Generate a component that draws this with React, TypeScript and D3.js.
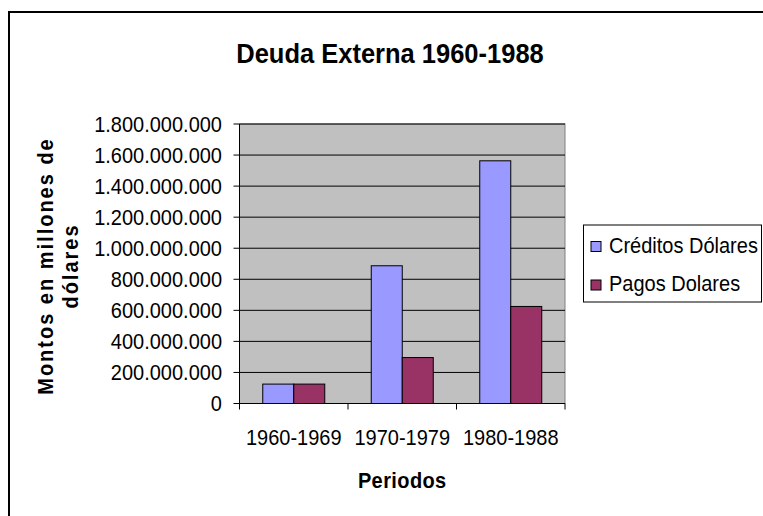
import React from 'react';
import * as d3 from 'd3';

const periods = ['1960-1969', '1970-1979', '1980-1988'];
const seriesNames = ['Créditos Dólares', 'Pagos Dolares'];
const creditos = [125000000, 887000000, 1563000000];
const pagos = [125000000, 296000000, 625000000];
const seriesColors = ['#9999FF', '#993366'];
const yTicks = [0, 200000000, 400000000, 600000000, 800000000, 1000000000, 1200000000, 1400000000, 1600000000, 1800000000];

const W = 763;
const H = 516;
const FONT = '"Liberation Sans", Arial, sans-serif';
const STRETCH = 1.1; // the picture's glyphs are a bit taller than wide

// plot area
const plot = { left: 239.5, right: 565, top: 124, bottom: 403.5 };

// text stretched vertically around its baseline
const T: React.FC<{ x: number; y: number; anchor?: string; size?: number; bold?: boolean; spacing?: number; children: React.ReactNode }> =
  ({ x, y, anchor = 'start', size = 20, bold = false, spacing = 0, children }) => (
    <g transform={`translate(${x},${y}) scale(1,${STRETCH})`}>
      <text x={0} y={0} textAnchor={anchor} fontSize={size} fontWeight={bold ? 'bold' : 'normal'}
        letterSpacing={spacing} fill="#000">{children}</text>
    </g>
  );

const App: React.FC = () => {
  const y = d3.scaleLinear().domain([0, 1800000000]).range([plot.bottom, plot.top]);
  const x0 = d3.scaleBand<string>().domain(periods).range([plot.left, plot.right]).padding(0);
  // Excel gap width 150% -> outer padding 0.75 of a bar on each side
  const x1 = d3.scaleBand<string>().domain(seriesNames).range([0, x0.bandwidth()]).paddingInner(0).paddingOuter(0.75);

  const fmt = (v: number) => d3.format(',')(v).replace(/,/g, '.');
  const values = [creditos, pagos];

  const boundaries = [...periods.map(p => x0(p) as number), plot.right];

  return (
    <svg width={W} height={H} style={{ position: 'absolute', left: 0, top: 0, background: '#fff' }} fontFamily={FONT}>
      {/* outer chart frame */}
      <rect x={9} y={12} width={W + 20} height={H + 20} fill="#fff" stroke="#000" strokeWidth={2} />

      <T x={390} y={63} anchor="middle" size={25.5} bold>Deuda Externa 1960-1988</T>

      {/* plot background */}
      <rect x={plot.left} y={plot.top} width={plot.right - plot.left} height={plot.bottom - plot.top}
        fill="#C0C0C0" stroke="#808080" strokeWidth={1} />

      {/* gridlines */}
      {yTicks.filter(t => t > 0).map(t => (
        <line key={'g' + t} x1={plot.left} x2={plot.right} y1={y(t)} y2={y(t)} stroke="#000" strokeWidth={1} />
      ))}

      {/* bars */}
      {periods.map((p, i) => (
        <g key={p} transform={`translate(${x0(p)},0)`}>
          {seriesNames.map((s, j) => (
            <rect key={s} x={x1(s)} y={y(values[j][i])} width={x1.bandwidth()}
              height={plot.bottom - y(values[j][i])} fill={seriesColors[j]} stroke="#000" strokeWidth={1} />
          ))}
        </g>
      ))}

      {/* y axis */}
      <line x1={plot.left} x2={plot.left} y1={plot.top} y2={plot.bottom} stroke="#000" strokeWidth={1} />
      {yTicks.map(t => (
        <g key={'t' + t}>
          <line x1={plot.left - 6} x2={plot.left} y1={y(t)} y2={y(t)} stroke="#000" strokeWidth={1} />
          <T x={222} y={y(t) + 7.5} anchor="end">{fmt(t)}</T>
        </g>
      ))}

      {/* x axis */}
      <line x1={plot.left} x2={plot.right} y1={plot.bottom} y2={plot.bottom} stroke="#000" strokeWidth={1} />
      {boundaries.map((b, i) => (
        <line key={'xb' + i} x1={b} x2={b} y1={plot.bottom} y2={plot.bottom + 6} stroke="#000" strokeWidth={1} />
      ))}
      {periods.map(p => (
        <T key={'xl' + p} x={(x0(p) as number) + x0.bandwidth() / 2} y={445} anchor="middle">{p}</T>
      ))}

      <T x={(plot.left + plot.right) / 2} y={488} anchor="middle" bold spacing={0.4}>Periodos</T>

      {/* y axis title */}
      <g transform="translate(0,266) rotate(-90)">
        <text x={0} y={53} textAnchor="middle" fontSize={20} fontWeight="bold" letterSpacing={2} fill="#000"
          transform={`scale(1,${STRETCH})`} style={{ transformOrigin: '0 53px' }}>
          Montos en millones de
        </text>
        <text x={0} y={78} textAnchor="middle" fontSize={20} fontWeight="bold" letterSpacing={2} fill="#000"
          transform={`scale(1,${STRETCH})`} style={{ transformOrigin: '0 78px' }}>
          dólares
        </text>
      </g>

      {/* legend */}
      <rect x={583.5} y={225} width={178} height={77} fill="#fff" stroke="#000" strokeWidth={1} />
      {seriesNames.map((s, j) => (
        <g key={'lg' + s} transform={`translate(0,${j * 38.5})`}>
          <rect x={591} y={241.5} width={10} height={10} fill={seriesColors[j]} stroke="#000" strokeWidth={1} />
          <T x={609} y={252.5}>{s}</T>
        </g>
      ))}
    </svg>
  );
};

export default App;
